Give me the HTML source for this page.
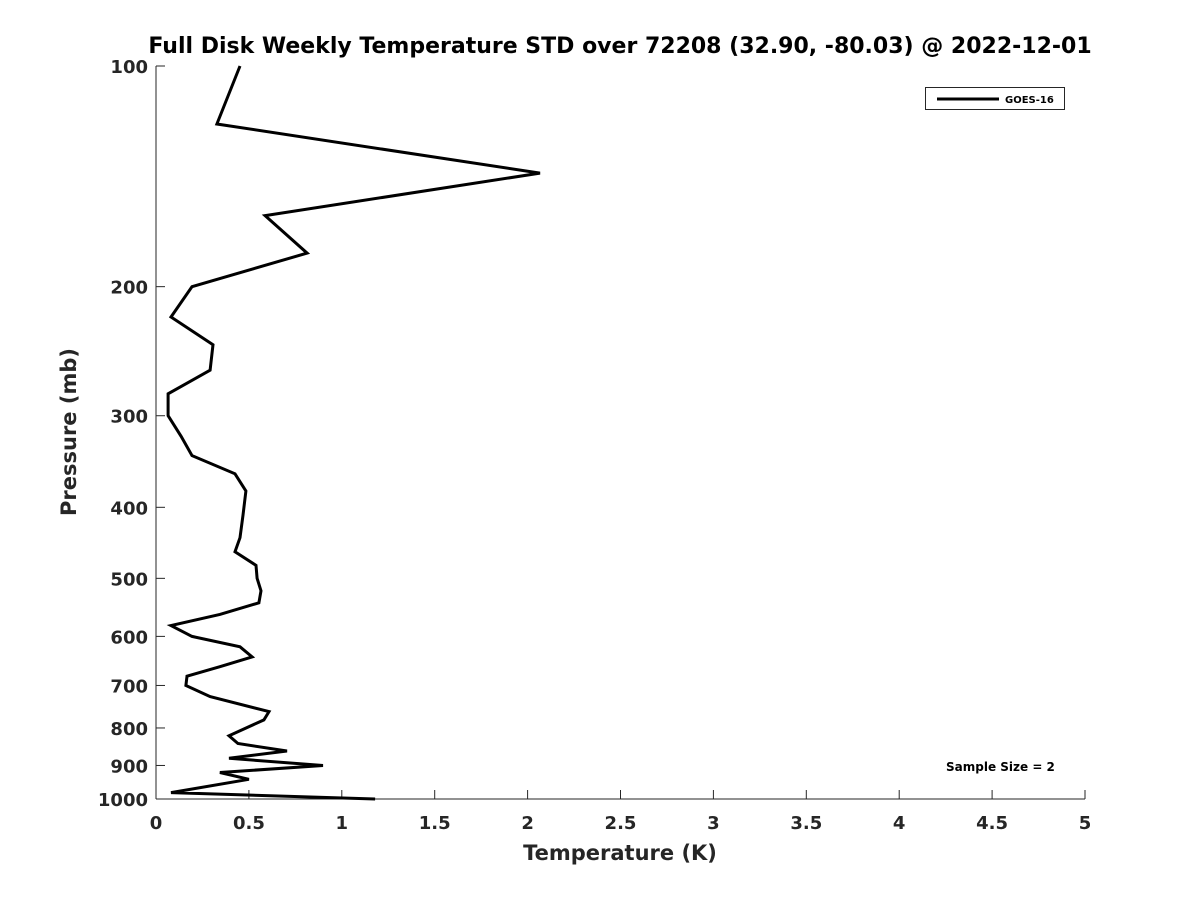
<!DOCTYPE html>
<html><head><meta charset="utf-8"><style>body{margin:0;background:#fff}svg{display:block}text{font-family:"DejaVu Sans","Liberation Sans",sans-serif;font-weight:bold;fill:#262626}</style></head>
<body>
<svg id="chart" width="1200" height="900" xmlns="http://www.w3.org/2000/svg">
<text x="620" y="53" text-anchor="middle" font-size="22" style="fill:#000">Full Disk Weekly Temperature STD over 72208 (32.90, -80.03) @ 2022-12-01</text>
<g id="axes"></g>
<g id="series"></g>
<text x="620" y="860" text-anchor="middle" font-size="21">Temperature (K)</text>
<text transform="translate(76,432) rotate(-90)" text-anchor="middle" font-size="21">Pressure (mb)</text>
<g>
<rect x="925.5" y="87.5" width="139" height="22" fill="#fff" stroke="#262626" stroke-width="1"/>
<line x1="937" y1="99" x2="999" y2="99" stroke="#000" stroke-width="3"/>
<text x="1005" y="103" font-size="10" style="fill:#000">GOES-16</text>
</g>
<text x="946" y="771" font-size="12" style="fill:#000">Sample Size = 2</text>
</svg>
<script>
const xTicks=[0,0.5,1,1.5,2,2.5,3,3.5,4,4.5,5];
const xTickLabels=["0","0.5","1","1.5","2","2.5","3","3.5","4","4.5","5"];
const yTicks=[100,200,300,400,500,600,700,800,900,1000];
const yTickLabels=["100","200","300","400","500","600","700","800","900","1000"];
const pressure=[100,120,140,160,180,200,220,240,260,280,300,320,340,360,380,410,440,460,480,500,520,540,560,580,600,620,640,660,680,700,725,760,780,820,840,860,880,900,920,940,980,1000];
const tempStd=[0.452,0.328,2.067,0.587,0.813,0.194,0.081,0.307,0.291,0.065,0.065,0.135,0.194,0.425,0.484,0.468,0.452,0.425,0.538,0.544,0.565,0.554,0.344,0.081,0.194,0.452,0.517,0.344,0.167,0.161,0.291,0.608,0.581,0.393,0.441,0.705,0.393,0.899,0.344,0.5,0.081,1.179];
const X0=156,X1=1085,Y0=66,Y1=799;
const sx=v=>X0+(v-0)/(5-0)*(X1-X0);
const sy=p=>Y0+(Math.log10(p)-2)/(1)*(Y1-Y0);
const NS="http://www.w3.org/2000/svg";
const axes=document.getElementById('axes');
function mk(tag,attrs,parent){const e=document.createElementNS(NS,tag);for(const k in attrs)e.setAttribute(k,attrs[k]);parent.appendChild(e);return e;}
let e=mk('line',{x1:X0,y1:Y0,x2:X0,y2:Y1,stroke:'#262626','stroke-width':1},axes);


e=mk('line',{x1:X0,y1:Y1,x2:X1,y2:Y1,stroke:'#262626','stroke-width':1},axes);


xTicks.forEach((v,i)=>{
 const x=sx(v);
 const t=mk('line',{x1:x,y1:Y1,x2:x,y2:Y1-9,stroke:'#262626'},axes);
 
 
 const l=mk('text',{x:x,y:Y1+30,'text-anchor':'middle','font-size':18},axes);
 l.textContent=xTickLabels[i];
 
 
});
yTicks.forEach((p,i)=>{
 const y=sy(p);
 const t=mk('line',{x1:X0,y1:y,x2:X0+9,y2:y,stroke:'#262626'},axes);
 
 
 const l=mk('text',{x:X0-8,y:y+7,'text-anchor':'end','font-size':18},axes);
 l.textContent=yTickLabels[i];
 
 
});
const pts=pressure.map((p,i)=>sx(tempStd[i]).toFixed(1)+','+sy(p).toFixed(1)).join(' ');
const line=mk('polyline',{points:pts,fill:'none',stroke:'#000','stroke-width':3,'stroke-linejoin':'miter'},document.getElementById('series'));


</script>
</body></html>
